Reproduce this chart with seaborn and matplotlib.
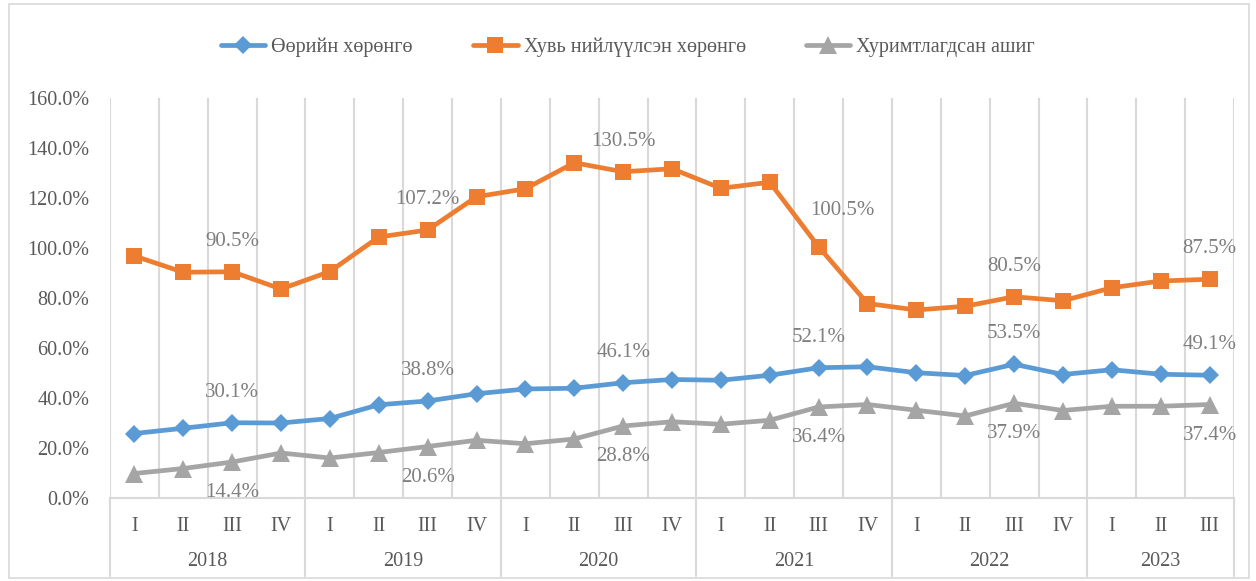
import matplotlib
matplotlib.use("Agg")
import matplotlib.pyplot as plt
import matplotlib.transforms as mtransforms
import seaborn as sns
import pandas as pd

# chart data
years = ["2018", "2019", "2020", "2021", "2022", "2023"]
quarters_per_year = [4, 4, 4, 4, 4, 3]
quarter_names = ["I", "II", "III", "IV"]

own_assets = [25.8, 27.9, 30.1, 30.0, 31.8, 37.3, 38.8, 41.7, 43.6, 43.9, 46.1, 47.4,
              47.1, 49.1, 52.1, 52.5, 50.1, 49.0, 53.5, 49.4, 51.3, 49.5, 49.1]
net_assets = [96.8, 90.3, 90.5, 83.6, 90.6, 104.4, 107.2, 120.5, 123.7, 134.1, 130.5, 131.7,
              123.9, 126.3, 100.5, 77.8, 75.2, 76.7, 80.5, 78.9, 84.1, 86.8, 87.5]
retained = [9.8, 11.8, 14.4, 18.0, 16.0, 18.2, 20.6, 23.1, 21.7, 23.6, 28.8, 30.5,
            29.5, 31.1, 36.4, 37.4, 35.1, 32.8, 37.9, 35.0, 36.7, 36.7, 37.4]

series_names = ["Өөрийн хөрөнгө", "Хувь нийлүүлсэн хөрөнгө", "Хуримтлагдсан ашиг"]
labeled_idx = [2, 6, 10, 14, 18, 22]

quarter_labels = []
for n in quarters_per_year:
    quarter_labels += quarter_names[:n]
x = list(range(len(quarter_labels)))

df = pd.DataFrame({"x": x, series_names[0]: own_assets,
                   series_names[1]: net_assets, series_names[2]: retained})

sns.set_theme(style="white")
plt.rcParams["font.family"] = ["Liberation Serif", "DejaVu Serif"]

fig = plt.figure(figsize=(12.56, 5.81), dpi=100)
ax = fig.add_axes([110 / 1256, 83 / 581, 1124 / 1256, 400 / 581])

styles = [
    (series_names[0], "#5B9BD5", "D", 9.5, 1),
    (series_names[1], "#ED7D31", "s", 12, 1),
    (series_names[2], "#A5A5A5", "^", 13, -1),
]
# one label was nudged by hand in the original chart
label_nudge = {(series_names[1], 14): (17, 26)}

for name, color, marker, ms, side in styles:
    sns.lineplot(data=df, x="x", y=name, ax=ax, color=color, marker=marker,
                 markersize=ms, markeredgewidth=0, linewidth=3.4, label=name,
                 legend=False, zorder=3)
    for i in labeled_idx:
        off = label_nudge.get((name, i), (0, 22 * side))
        ax.annotate(f"{df[name][i]:.1f}%", (i, df[name][i]), xytext=off,
                    textcoords="offset points", ha="center", va="center",
                    fontsize=15, color="#7F7F7F", zorder=4)

ax.set_xlim(-0.5, len(x) - 0.5)
ax.set_ylim(0, 160)
ax.set_yticks(range(0, 161, 20))
ax.set_yticklabels([f"{v:.1f}%" for v in range(0, 161, 20)])
ax.set_xticks(x)
ax.set_xticklabels(quarter_labels)
ax.tick_params(axis="both", length=0, labelsize=14.5, labelcolor="#595959")
ax.tick_params(axis="x", pad=14)
ax.tick_params(axis="y", pad=15)
ax.set_xlabel("")
ax.set_ylabel("")

for s in ["top", "right", "left"]:
    ax.spines[s].set_visible(False)
ax.spines["bottom"].set_color("#D9D9D9")
ax.spines["bottom"].set_linewidth(1.5)

# vertical gridlines between quarters
for b in range(len(x) + 1):
    ax.axvline(b - 0.5, color="#D9D9D9", linewidth=1.5, zorder=1)

# year groups below the axis
trans = mtransforms.blended_transform_factory(ax.transData, ax.transAxes)
start = 0
bounds = [start]
for yr, n in zip(years, quarters_per_year):
    ax.text(start + (n - 1) / 2, -0.16, yr, transform=trans, ha="center", va="center",
            fontsize=14.5, color="#595959")
    start += n
    bounds.append(start)
for b in bounds:
    ax.plot([b - 0.5, b - 0.5], [0, -0.195], transform=trans, color="#D9D9D9",
            linewidth=1.5, clip_on=False)

handles, labels = ax.get_legend_handles_labels()
fig.legend(handles, labels, loc="center", bbox_to_anchor=(0.5, 1 - 47 / 581), ncol=3,
           frameon=False, fontsize=14.5, labelcolor="#595959", handlelength=2.2,
           columnspacing=3.0, handletextpad=0.3)

# outer chart border
fig.patches.append(plt.Rectangle((9 / 1256, 3 / 581), 1240 / 1256, 574 / 581,
                                 transform=fig.transFigure, fill=False,
                                 edgecolor="#D9D9D9", linewidth=1.2))

fig.savefig("out.png", dpi=100)
